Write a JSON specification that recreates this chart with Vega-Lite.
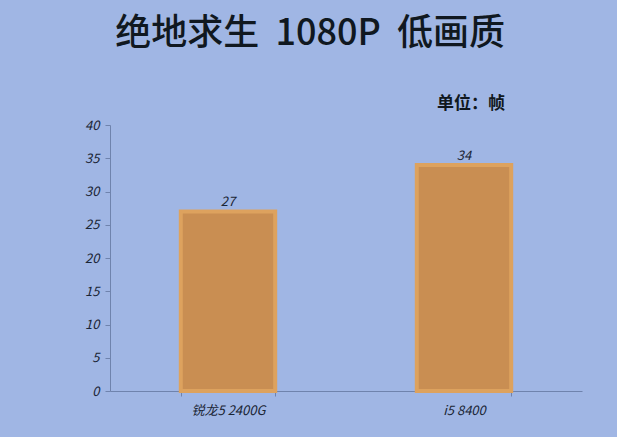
{
  "$schema": "https://vega.github.io/schema/vega-lite/v6.json",
  "width": 472,
  "height": 266,
  "autosize": {"type": "none"},
  "padding": {"left": 110, "top": 125, "right": 35, "bottom": 46},
  "background": "#A0B6E4",
  "config": {"view": {"stroke": null}, "font": "Noto Sans CJK SC"},
  "title": {
    "text": "绝地求生\u00a0 1080P\u00a0 低画质",
    "subtitle": "单位：帧",
    "anchor": "end",
    "frame": "group",
    "dx": -77,
    "offset": 6,
    "font": "Noto Sans CJK SC",
    "fontSize": 36,
    "fontWeight": 500,
    "color": "#101820",
    "subtitleFont": "Noto Sans CJK SC",
    "subtitleFontSize": 17,
    "subtitleFontWeight": "bold",
    "subtitleColor": "#101820",
    "subtitlePadding": 43
  },
  "data": {
    "values": [
      {"cpu": "锐龙5 2400G", "fps": 27},
      {"cpu": "i5 8400", "fps": 34}
    ]
  },
  "encoding": {
    "x": {
      "field": "cpu",
      "type": "nominal",
      "sort": null,
      "scale": {"paddingInner": 0.6, "paddingOuter": 0.3},
      "axis": {
        "title": null,
        "labelAngle": 0,
        "labelFontSize": 13,
        "labelFontStyle": "italic",
        "labelColor": "#1a2535",
        "labelPadding": 8,
        "domainColor": "#6f83ad",
        "tickColor": "#6f83ad",
        "tickBand": "extent",
        "tickSize": 5
      }
    },
    "y": {
      "field": "fps",
      "type": "quantitative",
      "scale": {"domain": [0, 40]},
      "axis": {
        "title": null,
        "values": [0, 5, 10, 15, 20, 25, 30, 35, 40],
        "grid": false,
        "labelFontSize": 13,
        "labelFontStyle": "italic",
        "labelColor": "#1a2535",
        "labelPadding": 6,
        "domainColor": "#6f83ad",
        "tickColor": "#6f83ad",
        "tickSize": 5
      }
    }
  },
  "layer": [
    {
      "mark": {"type": "bar", "color": "#C98E52", "stroke": "#DDA25E", "strokeWidth": 4}
    },
    {
      "mark": {"type": "text", "dy": -9, "fontSize": 13, "fontStyle": "italic", "color": "#1a2535"},
      "encoding": {"text": {"field": "fps", "type": "quantitative"}}
    }
  ]
}
